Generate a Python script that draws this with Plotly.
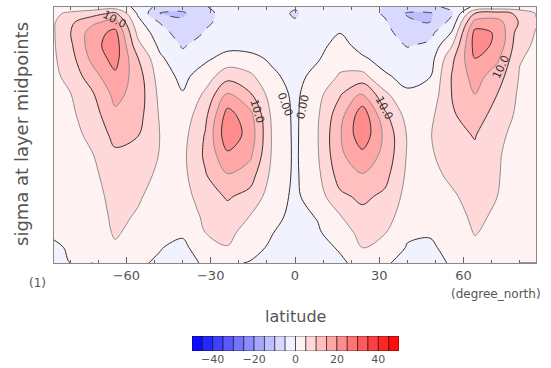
import numpy as np
import plotly.graph_objects as go

# ---------------- data ----------------
lats = [-85.76, -80, -72, -64, -56, -48, -40, -32, -24, -16, -8, 0,
        8, 16, 24, 32, 40, 48, 56, 64, 72, 80, 85.76]
sigma = [0.0, 0.025, 0.06, 0.1, 0.15, 0.2, 0.27, 0.34, 0.42, 0.5, 0.58,
         0.66, 0.74, 0.82, 0.88, 0.94, 1.0]

# one list per latitude, values from top (sigma=0) to bottom (sigma=1)
col_s86 = [1, 4, 4.6, 4.7, 4.6, 4.4, 4, 3.5, 3, 2.5, 2, 1.6, 1.2, 0.8, 0.3, -0.3, -0.3]
col_s80 = [1.5, 6, 9, 9.8, 9, 8, 6.5, 4.8, 4, 3.3, 2.7, 2.2, 1.6, 1.1, 0.6, 0.2, 0]
col_s72 = [2, 8, 14, 17.5, 18, 16.5, 13, 9.5, 7.8, 6.3, 4.8, 3.8, 3, 2.2, 1.5, 0.8, 0]
col_s64 = [2.5, 11, 17, 21.5, 23, 22, 19, 16.5, 14, 11.5, 9, 7.8, 6.8, 6.2, 5.7, 4.2, 0.5]
col_s56 = [-1, -0.5, 1.5, 3.8, 6.5, 10.3, 12.5, 13, 12, 10.2, 8.5, 6.8, 5.6, 4.5, 3.2, 1.8, 0.3]
col_s48 = [-7, -10.3, -5.3, -3, -1.2, 0.8, 2.5, 3.6, 4.4, 4.9, 4.7, 4, 3, 1.8, 0.8, 0.1, -0.3]
col_s40 = [-8, -10.8, -9, -7.5, -5.5, -3.5, -1.3, 0.3, 2, 3.2, 3.8, 3.6, 2.8, 1.5, 0.4, -0.6, -0.8]
col_s32 = [-5.3, -5.8, -5.5, -4.8, -3, -1, 2.5, 5.8, 8.5, 10.3, 10.8, 9.5, 7.8, 6, 5, 1.5, 0.3]
col_s24 = [-3, -4, -4, -3.3, -1.5, 1.8, 8, 15.5, 22, 23.5, 19, 14.5, 10.5, 8, 6.3, 4.8, 0.5]
col_s16 = [-2.5, -3.5, -3.6, -3, -1.5, 1.2, 6, 10.5, 16.5, 18, 16, 12, 8.5, 4.8, 3, 1.2, -0.2]
col_s08 = [-2, -3, -3, -2.5, -1.8, -0.8, 0.8, 2.5, 3.7, 4.3, 4.2, 3.5, 2.3, 1.2, 0.1, -0.6, -0.6]
col_eq = [-4.5, -5.6, -4.5, -3.2, -2.5, -2, -1.5, -1, -0.9, -0.9, -0.8, -0.8, -0.9, -1.2, -1.4, -1.4, -1]
col_n08 = [-2, -2.5, -2.5, -2, -1.3, -0.5, 1.5, 3.3, 4.3, 4.7, 4.5, 3.8, 2.6, 0.2, -0.5, -1, -0.8]
col_n16 = [-1.5, -1.5, -1, -0.1, 1.5, 3, 5.5, 9.5, 13, 14.5, 14, 12, 9, 4.6, 2.3, 0.3, -0.5]
col_n24 = [-2, -3, -3.3, -3, -1.5, 0.5, 6.5, 15.5, 23, 23.5, 18.5, 14.5, 11, 8.5, 6.8, 5.2, 1]
col_n32 = [-5.5, -5.5, -4.5, -3.8, -2.8, -1.5, 0.5, 6, 11, 13.8, 13.5, 11.5, 9, 7, 5.2, 3.8, 0.3]
col_n40 = [-7, -10.5, -9, -7, -5.3, -3.2, -1.2, 0.6, 3, 4.6, 4.5, 4, 3.3, 2.2, 0.9, -0.4, -0.8]
col_n48 = [-6, -10.6, -10.1, -6.5, -4, -2.3, -0.2, 1.5, 3.8, 4.7, 4.3, 3.5, 2.6, 1.5, 0.3, -0.5, -0.6]
col_n56 = [-4, -5.5, -3, 0.5, 5, 9, 10.5, 10.3, 9.5, 8.5, 7.5, 6, 4.3, 3, 2, 1, 0.2]
col_n64 = [1, 10, 17, 21.5, 22, 20, 17, 15, 12.5, 10.3, 9, 8, 7, 6, 5.3, 4, 0.5]
col_n72 = [2, 12, 17, 19.5, 19, 16, 12.5, 10, 8, 6, 5.4, 5.3, 5, 4.2, 3.5, 2.5, 0.3]
col_n80 = [1.5, 9, 9.5, 7, 6, 5.3, 4.6, 4.1, 3.8, 3.5, 3.2, 2.8, 2.3, 1.8, 1.2, 0.6, 0]
col_n86 = [0.5, 4.8, 5.3, 4.8, 4.5, 4, 3.6, 3.2, 2.8, 2.5, 2.1, 1.8, 1.5, 1.1, 0.7, 0.3, 0]

columns = [col_s86, col_s80, col_s72, col_s64, col_s56, col_s48, col_s40, col_s32,
           col_s24, col_s16, col_s08, col_eq, col_n08, col_n16, col_n24, col_n32,
           col_n40, col_n48, col_n56, col_n64, col_n72, col_n80, col_n86]

xticks = [-60, -30, 0, 30, 60]
cbar_levels = list(range(-50, 50, 5))      # lower edges of the 20 colour bands
cbar_ticks = [-40, -20, 0, 20, 40]

# contour labels: (lat, sigma, text, angle)
label_lat = [-64.3, -13.6, -3.5, 3.0, 31.9, 73.5]
label_sig = [0.05, 0.41, 0.38, 0.39, 0.395, 0.234]
label_txt = ["10.0", "10.0", "0.00", "0.00", "10.0", "10.0"]
label_ang = [28, 73, 70, -78, 62, -65]

# ---------------- build ----------------
z = np.array(columns).T  # rows = sigma, cols = latitude


def band_color(k):
    if k < 10:               # blues, k=0 deepest
        j = 10 - k
        v = int(round(255 * (1 - (j - 0.5) / 10)))
        return f"rgb({v},{v},255)"
    j = k - 9
    v = int(round(255 * (1 - (j - 0.5) / 10)))
    return f"rgb(255,{v},{v})"


band_colors = [band_color(k) for k in range(20)]
cscale = [[k / 19, band_colors[k]] for k in range(20)]

FONT = "DejaVu Sans"
TXT = "#555555"

fig = go.Figure()
smooth = 1.0
fig.add_trace(go.Contour(
    x=lats, y=sigma, z=z, colorscale=cscale, showscale=False,
    contours=dict(start=-45, end=45, size=5, coloring="fill", showlines=False),
    line=dict(width=0, smoothing=smooth), hoverinfo="skip"))
fig.add_trace(go.Contour(
    x=lats, y=sigma, z=z, showscale=False,
    contours=dict(start=5, end=25, size=10, coloring="none"),
    line=dict(color="#8e8e8e", width=1, smoothing=smooth), hoverinfo="skip"))
fig.add_trace(go.Contour(
    x=lats, y=sigma, z=z, showscale=False,
    contours=dict(start=0, end=20, size=10, coloring="none"),
    line=dict(color="#333333", width=1, smoothing=smooth), hoverinfo="skip"))
fig.add_trace(go.Contour(
    x=lats, y=sigma, z=z, showscale=False,
    contours=dict(start=-10, end=-5, size=5, coloring="none"),
    line=dict(color="#444444", width=1, dash="dash", smoothing=smooth), hoverinfo="skip"))

# colour bar drawn as bars
fig.add_trace(go.Bar(
    x=[v + 2.5 for v in cbar_levels], y=[1] * len(cbar_levels), width=5,
    marker=dict(color=band_colors, line=dict(color="rgba(0,0,0,0.55)", width=1)),
    xaxis="x2", yaxis="y2", hoverinfo="skip", showlegend=False))

for la, sg, tx, an in zip(label_lat, label_sig, label_txt, label_ang):
    fig.add_annotation(x=la, y=sg, xref="x", yref="y", text=tx, showarrow=False,
                       xanchor="center", yanchor="middle",
                       textangle=an, font=dict(family=FONT, size=11, color="#333"))

W, H = 551, 368
ml, mr, mt, mb = 54, 15, 7, 17
pw, ph = W - ml - mr, H - mt - mb


def fy(py):  # pixel y -> paper fraction
    return (H - mb - py) / ph


def fx(px):
    return (px - ml) / pw


fig.update_layout(
    width=W, height=H, margin=dict(l=ml, r=mr, t=mt, b=mb, autoexpand=False),
    paper_bgcolor="white", plot_bgcolor="white", showlegend=False,
    font=dict(family=FONT, color=TXT),
    xaxis=dict(range=[-85.76, 85.76], domain=[0, 1], anchor="y", automargin=False,
               tickvals=xticks, ticks="inside", ticklen=6, tickcolor="#666",
               minor=dict(dtick=10, ticks="inside", ticklen=3, tickcolor="#666"),
               mirror="allticks", showline=True, linecolor="#888", linewidth=1,
               showgrid=False, zeroline=False,
               tickfont=dict(family=FONT, size=13, color=TXT)),
    yaxis=dict(range=[1, 0], domain=[fy(263), 1], anchor="x", automargin=False,
               showticklabels=False, ticks="", showline=True, mirror=True,
               linecolor="#888", linewidth=1, showgrid=False, zeroline=False),
    xaxis2=dict(range=[-50, 50], domain=[fx(192), fx(399)], anchor="y2",
                automargin=False,
                tickvals=cbar_ticks, ticks="", showline=False, showgrid=False,
                zeroline=False, tickfont=dict(family=FONT, size=11, color=TXT)),
    yaxis2=dict(range=[0, 1], domain=[fy(351), fy(336)], anchor="x2",
                automargin=False, visible=False),
)


def paper_text(px, py, text, size, angle=0):
    fig.add_annotation(xref="paper", yref="paper", x=fx(px), y=fy(py), text=text,
                       xanchor="center", yanchor="middle", textangle=angle,
                       showarrow=False, font=dict(family=FONT, size=size, color=TXT))


paper_text(295, 316, "latitude", 16)
paper_text(496, 294, "(degree_north)", 12)
paper_text(37, 283, "(1)", 12)
paper_text(21, 134, "sigma at layer midpoints", 18, -90)

fig.write_html("out.html")
